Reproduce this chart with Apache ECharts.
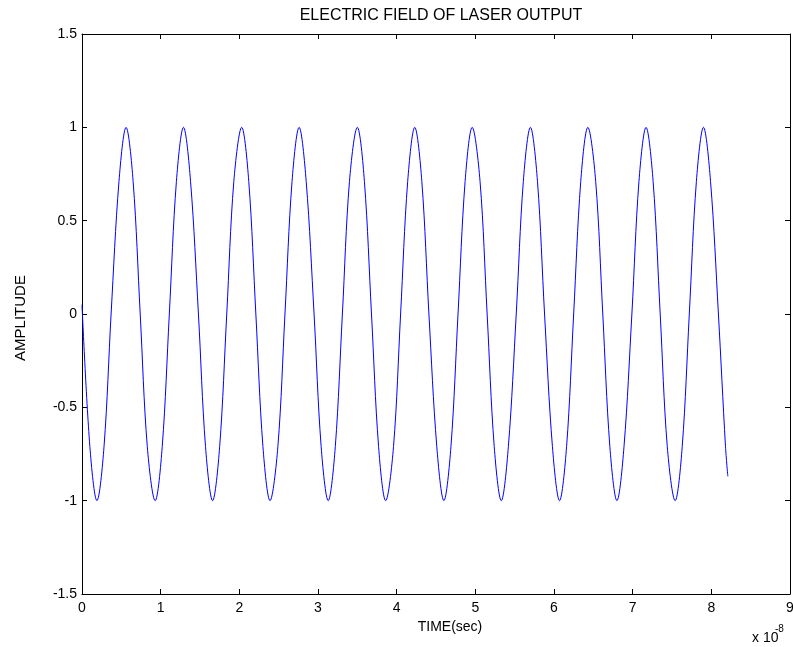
<!DOCTYPE html>
<html>
<head>
<meta charset="utf-8">
<script src="https://cdn.jsdelivr.net/npm/echarts@6/dist/echarts.min.js"></script>
<style>
  html, body { margin: 0; padding: 0; background: #fff; }
  #main { width: 793px; height: 647px; }
</style>
</head>
<body>
<div id="main"></div>
<script>
// time axis values (x 10^-8 s)
var timeVals = [
    0, 0.10, 0.19,
    0.28, 0.37, 0.47, 0.56, 0.65, 0.74, 0.83, 0.93,
    1.02, 1.11, 1.20, 1.29, 1.38, 1.48, 1.57, 1.66,
    1.75, 1.84, 1.93, 2.03, 2.12, 2.21, 2.30, 2.39,
    2.49, 2.58, 2.67, 2.76, 2.85, 2.95, 3.04, 3.13,
    3.22, 3.31, 3.40, 3.50, 3.59, 3.68, 3.77, 3.86,
    3.96, 4.05, 4.14, 4.23, 4.32, 4.41, 4.51, 4.60,
    4.69, 4.78, 4.87, 4.96, 5.06, 5.15, 5.24, 5.33,
    5.42, 5.52, 5.61, 5.70, 5.79, 5.88, 5.98, 6.07,
    6.16, 6.25, 6.34, 6.43, 6.53, 6.62, 6.71, 6.80,
    6.89, 6.99, 7.08, 7.17, 7.26, 7.35, 7.44, 7.54,
    7.63, 7.72, 7.81, 7.90, 7.99, 8.09, 8.18, 8.21
];
// amplitude at those times
var ampVals = [
    0.05, -0.71, -1,
    -0.71, 0, 0.71, 1, 0.71, 0, -0.71, -1,
    -0.71, 0, 0.71, 1, 0.71, 0, -0.71, -1,
    -0.71, 0, 0.71, 1, 0.71, 0, -0.71, -1,
    -0.71, 0, 0.71, 1, 0.71, 0, -0.71, -1,
    -0.71, 0, 0.71, 1, 0.71, 0, -0.71, -1,
    -0.71, 0, 0.71, 1, 0.71, 0, -0.71, -1,
    -0.71, 0, 0.71, 1, 0.71, 0, -0.71, -1,
    -0.71, 0, 0.71, 1, 0.71, 0, -0.71, -1,
    -0.71, 0, 0.71, 1, 0.71, 0, -0.71, -1,
    -0.71, 0, 0.71, 1, 0.71, 0, -0.71, -1,
    -0.71, 0, 0.71, 1, 0.71, 0, -0.71, -0.87
];
var xTicks = [0, 9, 1];       // min, max, step
var yTicks = [-1.5, 1.5, 0.5];

var FONT = '"Liberation Sans", Arial, sans-serif';

var pts = [];
for (var i = 0; i < timeVals.length; i++) {
    pts.push([timeVals[i], ampVals[i]]);
}

function axisStyle() {
    return {
        axisLine: { show: true, onZero: false, lineStyle: { color: '#000', width: 1 } },
        axisTick: { show: true, inside: true, length: 5, lineStyle: { color: '#000' } },
        splitLine: { show: false }
    };
}

var xBottom = Object.assign({
    type: 'value', position: 'bottom',
    min: xTicks[0], max: xTicks[1], interval: xTicks[2],
    axisLabel: { color: '#000', fontFamily: FONT, fontSize: 14, margin: 7,
                 alignMinLabel: 'center', alignMaxLabel: 'center' }
}, axisStyle());
var xTop = Object.assign({
    type: 'value', position: 'top',
    min: xTicks[0], max: xTicks[1], interval: xTicks[2],
    axisLabel: { show: false }
}, axisStyle());
var yLeft = Object.assign({
    type: 'value', position: 'left',
    min: yTicks[0], max: yTicks[1], interval: yTicks[2],
    axisLabel: { color: '#000', fontFamily: FONT, fontSize: 14, margin: 5 }
}, axisStyle());
var yRight = Object.assign({
    type: 'value', position: 'right',
    min: yTicks[0], max: yTicks[1], interval: yTicks[2],
    axisLabel: { show: false }
}, axisStyle());

var chart = echarts.init(document.getElementById('main'));
chart.setOption({
    backgroundColor: '#fff',
    animation: false,
    grid: { left: 82, right: 3, top: 34, bottom: 53, containLabel: false, outerBoundsMode: 'none' },
    xAxis: [xBottom, xTop],
    yAxis: [yLeft, yRight],
    series: [{
        type: 'line',
        data: pts,
        showSymbol: false,
        smooth: 0.35,
        lineStyle: { color: '#0000ff', width: 1 },
        itemStyle: { color: '#0000ff' }
    }],
    graphic: [
        {
            type: 'text', x: 441, y: 16,
            style: { text: 'ELECTRIC FIELD OF LASER OUTPUT', font: '16px ' + FONT, fill: '#000', align: 'center', verticalAlign: 'middle' }
        },
        {
            type: 'text', x: 450, y: 627,
            style: { text: 'TIME(sec)', font: '14px ' + FONT, fill: '#000', align: 'center', verticalAlign: 'middle' }
        },
        {
            type: 'text', x: 21, y: 318, rotation: Math.PI / 2,
            style: { text: 'AMPLITUDE', font: '15px ' + FONT, fill: '#000', align: 'center', verticalAlign: 'middle' }
        },
        {
            type: 'text', x: 752, y: 638,
            style: { text: 'x 10', font: '14px ' + FONT, fill: '#000', align: 'left', verticalAlign: 'middle' }
        },
        {
            type: 'text', x: 775, y: 629,
            style: { text: '-8', font: '10px ' + FONT, fill: '#000', align: 'left', verticalAlign: 'middle' }
        }
    ]
});
</script>
</body>
</html>
